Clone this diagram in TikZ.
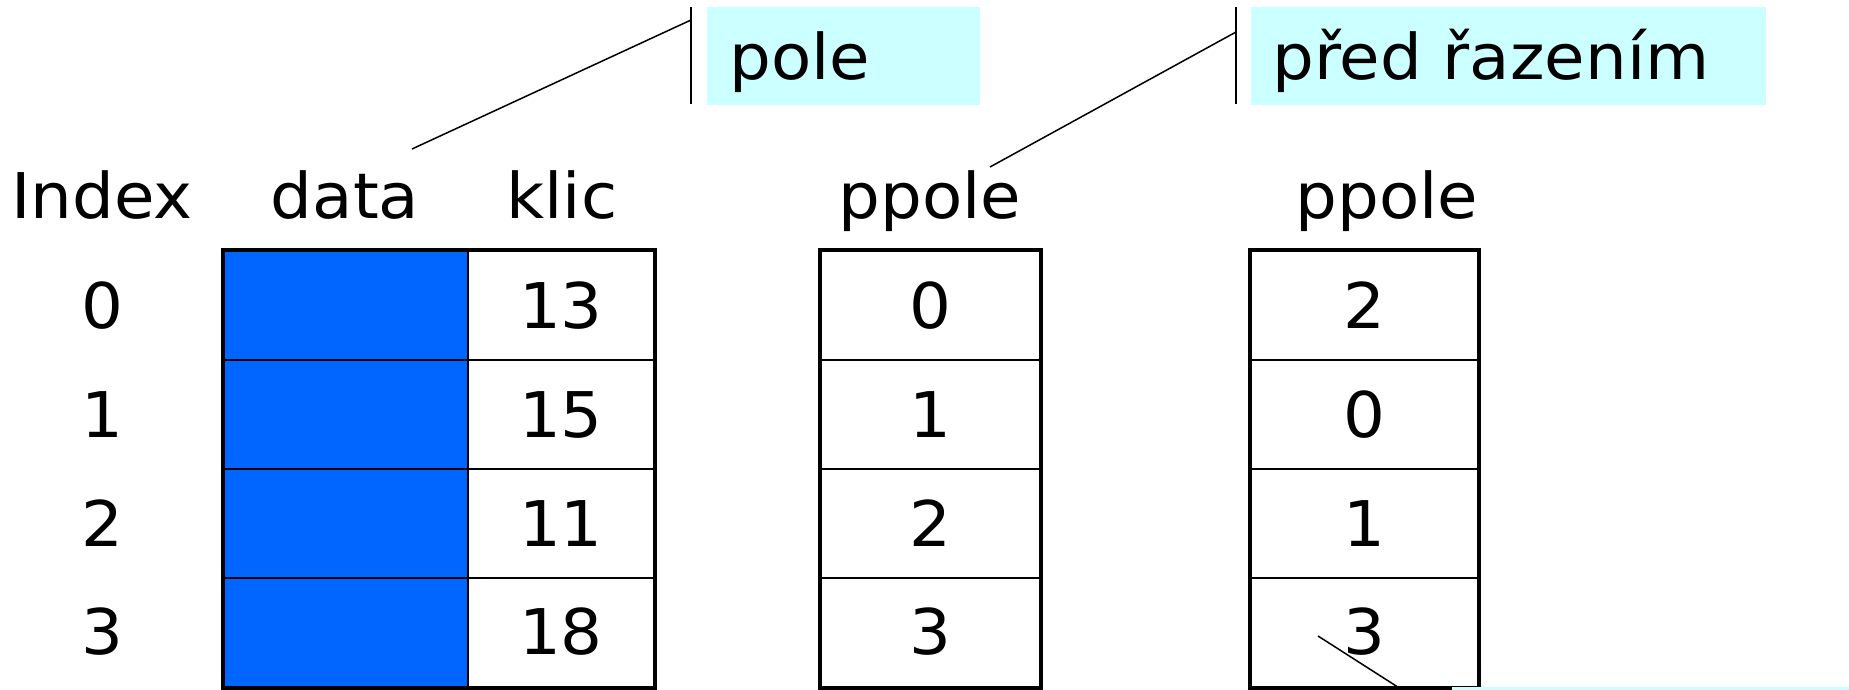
\documentclass[tikz,border=0pt]{standalone}
\usepackage{fontspec}
\setmainfont{DejaVu Sans}[FakeStretch=1.045]
\definecolor{calloutfill}{HTML}{CCFFFF}
\definecolor{datablue}{HTML}{0066FF}
\begin{document}
\begin{tikzpicture}[x=1pt,y=-1pt,
  txt/.style={font=\fontsize{63}{75}\selectfont, inner sep=0pt},
  cell/.style={txt, draw, line width=2pt, minimum height=109pt, inner sep=0pt},
  datacell/.style={cell, fill=datablue, minimum width=244pt},
  klicccell/.style={cell, minimum width=186pt},
  pcellA/.style={cell, minimum width=219pt},
  pcellB/.style={cell, minimum width=227pt},
  outer/.style={line width=4pt},
  callbox/.style={fill=calloutfill, draw=none, anchor=north west, inner sep=0pt},
  leader/.style={line width=1.5pt},
  calbar/.style={line width=2pt}]
\useasboundingbox (0,0) rectangle (1849,690);

% callout boxes
\node[callbox, minimum width=273pt, minimum height=98pt] (polebox) at (707,7) {};
\node[txt, anchor=base west] (poletxt) at (729,80) {pole};
\node[callbox, minimum width=515pt, minimum height=98pt] (predbox) at (1251,7) {};
\node[txt, anchor=base west] (predtxt) at (1272,80) {před řazením};

% headers
\node[txt, anchor=base] (hindex) at (102,218) {Index};
\node[txt, anchor=base] (hdata) at (345,218) {data};
\node[txt, anchor=base] (hklic) at (562,218) {klic};
\node[txt, anchor=base] (hpp1) at (930,218) {ppole};
\node[txt, anchor=base] (hpp2) at (1387,218) {ppole};

% rows
\foreach \i/\y/\k/\a/\b in {0/305.5/13/0/2, 1/414.5/15/1/0, 2/523.5/11/2/1, 3/632/18/3/3}{
  \node[txt] (idx\i) at (102,\y) {\i};
  \node[datacell] (d\i) at (346,\y) {};
  \node[klicccell] (k\i) at (561,\y) {\k};
  \node[pcellA] (p\i) at (930.5,\y) {\a};
  \node[pcellB] (q\i) at (1364.5,\y) {\b};
}

% outer borders
\draw[outer] (d0.north west) rectangle (k3.south east);
\draw[outer] (p0.north west) rectangle (p3.south east);
\draw[outer] (q0.north west) rectangle (q3.south east);

% callout bars and leaders
\coordinate (polebarT) at (691,7);
\coordinate (polebarB) at (691,104);
\coordinate (poleend) at (691,20);
\coordinate (polestart) at (412,149);
\draw[calbar] (polebarT) -- (polebarB);
\draw[leader] (polestart) -- (poleend);

\coordinate (predbarT) at (1236,7);
\coordinate (predbarB) at (1236,104);
\coordinate (predend) at (1236,32);
\coordinate (predstart) at (990,167);
\draw[calbar] (predbarT) -- (predbarB);
\draw[leader] (predstart) -- (predend);

% bottom callout (mostly cut off)
\node[callbox, minimum width=397pt, minimum height=10pt] (botbox) at (1452,687) {};
\coordinate (botbarT) at (1436,686);
\coordinate (botbarB) at (1436,692);
\coordinate (botstart) at (1318,636);
\coordinate (botend) at (1404,691);
\draw[calbar] (botbarT) -- (botbarB);
\draw[leader] (botstart) -- (botend);
\end{tikzpicture}
\end{document}
